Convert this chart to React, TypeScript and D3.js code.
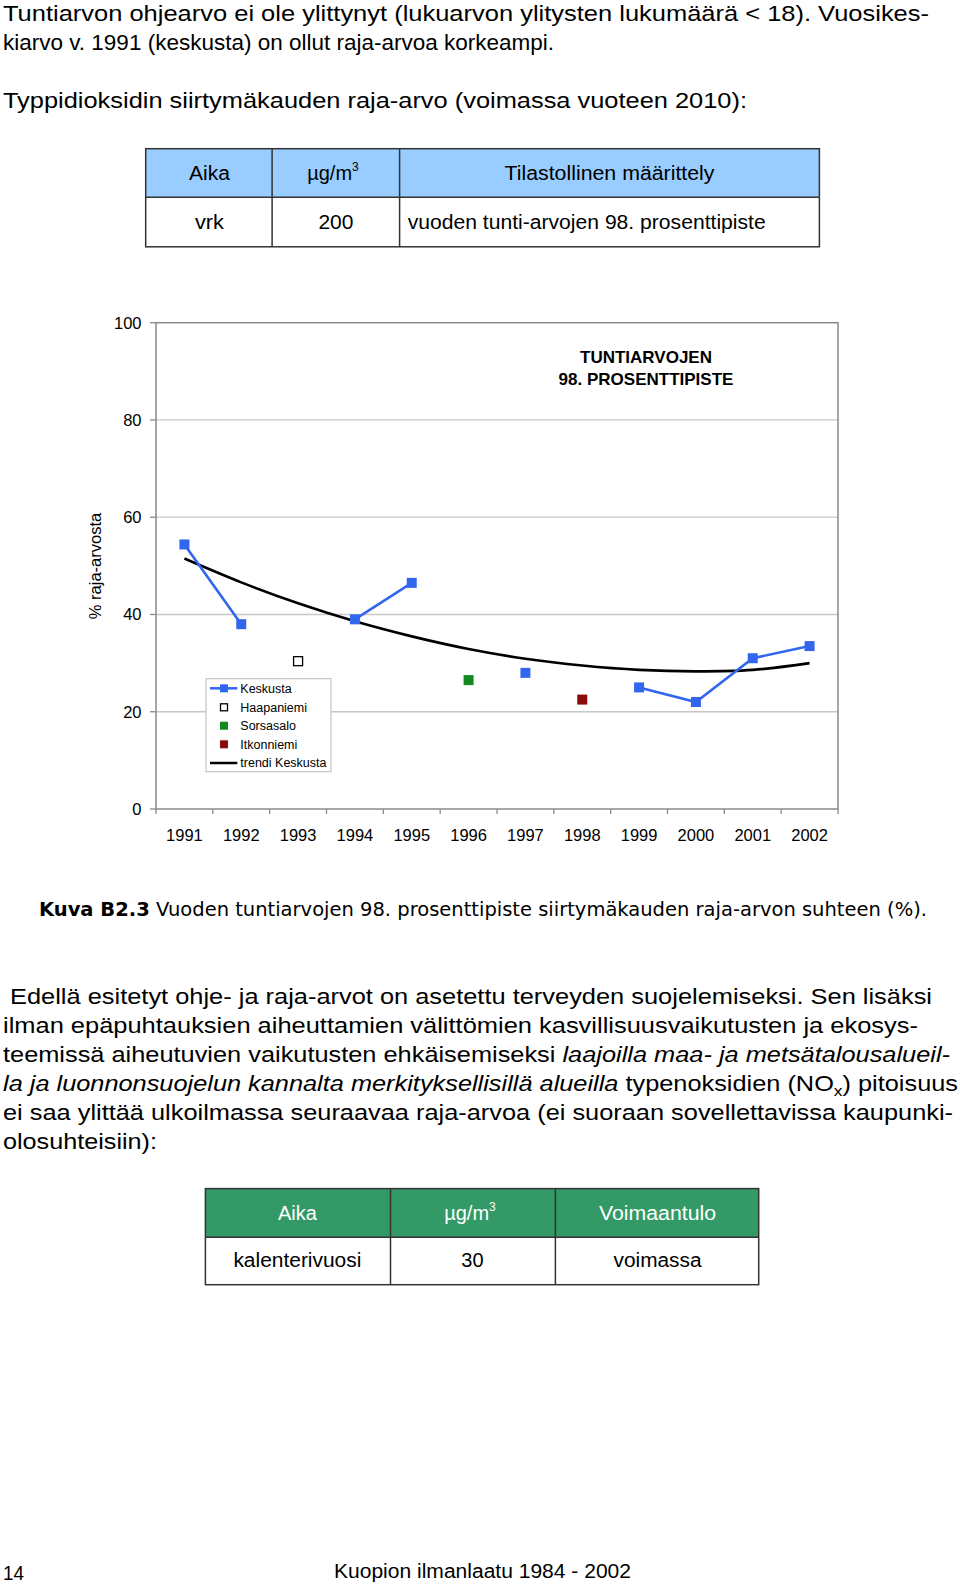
import React from "react";
import * as d3 from "d3";

const years = ["1991","1992","1993","1994","1995","1996","1997","1998","1999","2000","2001","2002"];
const keskusta: (number | null)[] = [54.4, 38.0, null, 39.0, 46.5, null, 28.0, null, 25.0, 22.0, 31.0, 33.5];
const haapaniemi: (number | null)[] = [null, null, 30.4, null, null, null, null, null, null, null, null, null];
const sorsasalo: (number | null)[] = [null, null, null, null, null, 26.5, null, null, null, null, null, null];
const itkonniemi: (number | null)[] = [null, null, null, null, null, null, null, 22.5, null, null, null, null];
const trendKeskusta = [51.5, 46.6, 42.3, 38.6, 35.5, 32.9, 30.9, 29.5, 28.6, 28.3, 28.6, 30.0];
const yTicks = [0, 20, 40, 60, 80, 100];

const table1Header = ["Aika", "µg/m", "Tilastollinen määrittely"];
const table1Body = ["vrk", "200", "vuoden tunti-arvojen 98. prosenttipiste"];
const table2Header = ["Aika", "µg/m", "Voimaantulo"];
const table2Body = ["kalenterivuosi", "30", "voimassa"];

const FONT = "'Liberation Sans', Arial, Helvetica, sans-serif";
const BLUE = "#3366ee";
const BODY = 22;

export default function App() {
  const x = d3.scaleBand<string>().domain(years).range([156, 838]);
  const y = d3.scaleLinear().domain([0, 100]).range([809, 322.7]);
  const cx = (i: number) => (x(years[i]) as number) + x.bandwidth() / 2;

  const line = d3
    .line<number | null>()
    .defined((d) => d != null)
    .x((_, i) => cx(i))
    .y((d) => y(d as number));
  const trendLine = d3
    .line<number>()
    .x((_, i) => cx(i))
    .y((d) => y(d))
    .curve(d3.curveCatmullRom);

  const sq = (xx: number, yy: number, fill: string, stroke = "none", s = 10, key?: any) => (
    <rect key={key} x={xx - s / 2} y={yy - s / 2} width={s} height={s} fill={fill} stroke={stroke} strokeWidth={stroke === "none" ? 0 : 1.3} />
  );

  const boundaries = [...years.map((yr) => x(yr) as number), 838];

  const legendItems = [
    { label: "Keskusta", kind: "kline" },
    { label: "Haapaniemi", kind: "hollow" },
    { label: "Sorsasalo", kind: "green" },
    { label: "Itkonniemi", kind: "red" },
    { label: "trendi Keskusta", kind: "trend" },
  ];
  const legendY = [688.3, 707.3, 725.7, 744.3, 763];

  return (
    <svg width={960} height={1586} style={{ position: "absolute", left: 0, top: 0, background: "#fff" }} fontFamily={FONT}>
      <rect x={0} y={0} width={960} height={1586} fill="#fff" />
      {/* top text */}
      <text x={3} y={21} fontSize={BODY} textLength={926} lengthAdjust="spacingAndGlyphs">Tuntiarvon ohjearvo ei ole ylittynyt (lukuarvon ylitysten lukumäärä &lt; 18). Vuosikes-</text>
      <text x={3} y={50} fontSize={BODY} textLength={551} lengthAdjust="spacingAndGlyphs">kiarvo v. 1991 (keskusta) on ollut raja-arvoa korkeampi.</text>
      <text x={3} y={108} fontSize={BODY} textLength={744} lengthAdjust="spacingAndGlyphs">Typpidioksidin siirtymäkauden raja-arvo (voimassa vuoteen 2010):</text>

      {/* table 1 */}
      <rect x={145.7} y={148.7} width={673.7} height={48.6} fill="#99ccff" />
      <rect x={145.7} y={148.7} width={673.7} height={98.1} fill="none" stroke="#333" strokeWidth={1.5} />
      <line x1={145.7} x2={819.4} y1={197.3} y2={197.3} stroke="#333" strokeWidth={1.5} />
      <line x1={272.1} x2={272.1} y1={148.7} y2={246.8} stroke="#333" strokeWidth={1.5} />
      <line x1={399.6} x2={399.6} y1={148.7} y2={246.8} stroke="#333" strokeWidth={1.5} />
      <text x={209.4} y={179.5} fontSize={20} textAnchor="middle" textLength={41} lengthAdjust="spacingAndGlyphs">{table1Header[0]}</text>
      <text x={333} y={179.5} fontSize={20} textAnchor="middle">{table1Header[1]}<tspan fontSize={12} dy={-9}>3</tspan></text>
      <text x={609.5} y={179.5} fontSize={20} textAnchor="middle" textLength={210} lengthAdjust="spacingAndGlyphs">{table1Header[2]}</text>
      <text x={209.4} y={228.5} fontSize={20} textAnchor="middle" textLength={29} lengthAdjust="spacingAndGlyphs">{table1Body[0]}</text>
      <text x={335.9} y={228.5} fontSize={20} textAnchor="middle" textLength={35} lengthAdjust="spacingAndGlyphs">{table1Body[1]}</text>
      <text x={407.7} y={228.5} fontSize={20} textLength={358} lengthAdjust="spacingAndGlyphs">{table1Body[2]}</text>

      {/* chart */}
      <g>
        {yTicks.filter((t) => t > 0 && t < 100).map((t) => (
          <line key={t} x1={156} x2={838} y1={y(t)} y2={y(t)} stroke="#c8c8c8" strokeWidth={1.3} />
        ))}
        <rect x={156} y={y(100)} width={682} height={y(0) - y(100)} fill="none" stroke="#8a8a8a" strokeWidth={1.5} />
        {yTicks.map((t) => (
          <g key={t}>
            <line x1={150} x2={156} y1={y(t)} y2={y(t)} stroke="#8a8a8a" strokeWidth={1.3} />
            <text x={141.5} y={y(t) + 6} fontSize={16.5} textAnchor="end">{t}</text>
          </g>
        ))}
        {boundaries.map((b, i) => (
          <line key={i} x1={b} x2={b} y1={y(0)} y2={y(0) + 5} stroke="#8a8a8a" strokeWidth={1.3} />
        ))}
        {years.map((yr, i) => (
          <text key={yr} x={cx(i)} y={841} fontSize={16.5} textAnchor="middle">{yr}</text>
        ))}
        <text transform="translate(101,566) rotate(-90)" fontSize={16.5} textAnchor="middle">% raja-arvosta</text>
        <text x={646} y={363} fontSize={17} fontWeight="bold" textAnchor="middle">TUNTIARVOJEN</text>
        <text x={646} y={385} fontSize={17} fontWeight="bold" textAnchor="middle">98. PROSENTTIPISTE</text>

        <path d={trendLine(trendKeskusta) || ""} fill="none" stroke="#000" strokeWidth={2.6} />
        <path d={line(keskusta) || ""} fill="none" stroke={BLUE} strokeWidth={2.6} />
        {keskusta.map((v, i) => (v == null ? null : sq(cx(i), y(v), BLUE, "none", 10, "k" + i)))}
        {haapaniemi.map((v, i) => (v == null ? null : sq(cx(i), y(v), "#fff", "#000", 9, "h" + i)))}
        {sorsasalo.map((v, i) => (v == null ? null : sq(cx(i), y(v), "#138a1e", "none", 10, "s" + i)))}
        {itkonniemi.map((v, i) => (v == null ? null : sq(cx(i), y(v), "#8b0a0a", "none", 10, "i" + i)))}

        {/* legend */}
        <rect x={206} y={678.7} width={125} height={93} fill="#fff" stroke="#c4c4c4" strokeWidth={1.2} />
        {legendItems.map((it, i) => {
          const ly = legendY[i];
          return (
            <g key={it.label}>
              {it.kind === "kline" && (
                <>
                  <line x1={210} x2={237.3} y1={ly} y2={ly} stroke={BLUE} strokeWidth={2.5} />
                  {sq(224, ly, BLUE, "none", 8)}
                </>
              )}
              {it.kind === "hollow" && sq(224, ly, "#fff", "#000", 7)}
              {it.kind === "green" && sq(224, ly, "#138a1e", "none", 8)}
              {it.kind === "red" && sq(224, ly, "#8b0a0a", "none", 8)}
              {it.kind === "trend" && <line x1={210} x2={237.3} y1={ly} y2={ly} stroke="#000" strokeWidth={2.5} />}
              <text x={240.3} y={ly + 4.4} fontSize={12.5}>{it.label}</text>
            </g>
          );
        })}
      </g>

      {/* caption */}
      <text x={39} y={916} fontSize={20} textLength={888} lengthAdjust="spacingAndGlyphs" fontFamily="'Comic Sans MS', 'DejaVu Sans', sans-serif">
        <tspan fontWeight="bold">Kuva B2.3</tspan> Vuoden tuntiarvojen 98. prosenttipiste siirtymäkauden raja-arvon suhteen (%).
      </text>

      {/* paragraph */}
      <text x={10} y={1004} fontSize={BODY} textLength={922} lengthAdjust="spacingAndGlyphs">Edellä esitetyt ohje- ja raja-arvot on asetettu terveyden suojelemiseksi. Sen lisäksi</text>
      <text x={3} y={1033.3} fontSize={BODY} textLength={915} lengthAdjust="spacingAndGlyphs">ilman epäpuhtauksien aiheuttamien välittömien kasvillisuusvaikutusten ja ekosys-</text>
      <text x={3} y={1062} fontSize={BODY} textLength={947} lengthAdjust="spacingAndGlyphs">teemissä aiheutuvien vaikutusten ehkäisemiseksi <tspan fontStyle="italic">laajoilla maa- ja metsätalousalueil-</tspan></text>
      <text x={3} y={1091} fontSize={BODY} textLength={955} lengthAdjust="spacingAndGlyphs"><tspan fontStyle="italic">la ja luonnonsuojelun kannalta merkityksellisillä alueilla</tspan> typenoksidien (NO<tspan fontSize={15} dy={5}>x</tspan><tspan dy={-5}>) pitoisuus</tspan></text>
      <text x={3} y={1120} fontSize={BODY} textLength={950} lengthAdjust="spacingAndGlyphs">ei saa ylittää ulkoilmassa seuraavaa raja-arvoa (ei suoraan sovellettavissa kaupunki-</text>
      <text x={3} y={1149} fontSize={BODY} textLength={154} lengthAdjust="spacingAndGlyphs">olosuhteisiin):</text>

      {/* table 2 */}
      <rect x={205.4} y={1188.6} width={553.3} height={48.6} fill="#339966" />
      <rect x={205.4} y={1188.6} width={553.3} height={96.1} fill="none" stroke="#333" strokeWidth={1.5} />
      <line x1={205.4} x2={758.7} y1={1237.2} y2={1237.2} stroke="#333" strokeWidth={1.5} />
      <line x1={390.5} x2={390.5} y1={1188.6} y2={1284.7} stroke="#333" strokeWidth={1.5} />
      <line x1={555.4} x2={555.4} y1={1188.6} y2={1284.7} stroke="#333" strokeWidth={1.5} />
      <text x={297.4} y={1220} fontSize={20} fill="#fff" textAnchor="middle">{table2Header[0]}</text>
      <text x={470} y={1220} fontSize={20} fill="#fff" textAnchor="middle">{table2Header[1]}<tspan fontSize={12} dy={-9}>3</tspan></text>
      <text x={657.5} y={1220} fontSize={20} fill="#fff" textAnchor="middle" textLength={117} lengthAdjust="spacingAndGlyphs">{table2Header[2]}</text>
      <text x={297.4} y={1266.5} fontSize={20} textAnchor="middle" textLength={128} lengthAdjust="spacingAndGlyphs">{table2Body[0]}</text>
      <text x={472.4} y={1266.5} fontSize={20} textAnchor="middle">{table2Body[1]}</text>
      <text x={657.5} y={1266.5} fontSize={20} textAnchor="middle" textLength={88} lengthAdjust="spacingAndGlyphs">{table2Body[2]}</text>

      {/* footer */}
      <text x={3} y={1580} fontSize={20} textLength={21} lengthAdjust="spacingAndGlyphs">14</text>
      <text x={334} y={1578} fontSize={20} textLength={297} lengthAdjust="spacingAndGlyphs">Kuopion ilmanlaatu 1984 - 2002</text>
    </svg>
  );
}
